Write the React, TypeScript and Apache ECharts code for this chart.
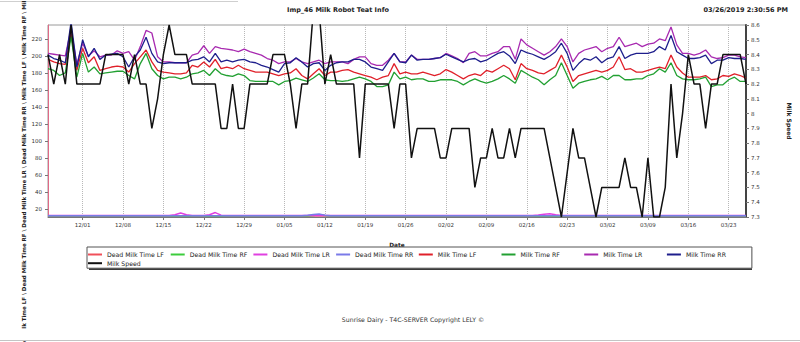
import React, { useEffect, useRef } from "react";
import * as echarts from "echarts";

// ---------- data ----------
const START_DATE = "2018-11-25";
const DAY_COUNT = 122;
function buildDates(): string[] {
  const out: string[] = [];
  const d0 = new Date(START_DATE + "T12:00:00Z");
  for (let i = 0; i < DAY_COUNT; i++) {
    const d = new Date(d0.getTime() + i * 86400000);
    const mm = String(d.getUTCMonth() + 1).padStart(2, "0");
    const dd = String(d.getUTCDate()).padStart(2, "0");
    out.push(mm + "/" + dd);
  }
  return out;
}
const dates = buildDates();

const leftTicks = [20, 40, 60, 80, 100, 120, 140, 160, 180, 200, 220];
const rightTicks = [7.3, 7.4, 7.5, 7.6, 7.7, 7.8, 7.9, 8, 8.1, 8.2, 8.3, 8.4, 8.5, 8.6];

const deadMilkTimeLF = [
  12,12,12,12,12,12,12,12,12,12, 12,12,12,12,12,12,12,12,12,12,
  12,12,12,12,12,12,12,12,12,12, 12,12,12,12,12,12,12,12,12,12,
  12,12,12,12,12,12,12,12,12,12, 12,12,12,12,12,12,12,12,12,12,
  12,12,12,12,12,12,12,12,12,12, 12,12,12,12,12,12,12,12,12,12,
  12,12,12,12,12,12,12,12,12,12, 12,12,12,12,12,12,12,12,12,12,
  12,12,12,12,12,12,12,12,12,12, 12,12,12,12,12,12,12,12,12,12,
  12,12,
];
const deadMilkTimeRF = [
  11.8,11.8,11.8,11.8,11.8,11.8,11.8,11.8,11.8,11.8, 11.8,11.8,11.8,11.8,11.8,11.8,11.8,11.8,11.8,11.8,
  11.8,11.8,11.8,11.8,11.8,11.8,11.8,11.8,11.8,11.8, 11.8,11.8,11.8,11.8,11.8,11.8,11.8,11.8,11.8,11.8,
  11.8,11.8,11.8,11.8,11.8,11.8,12.5,13.2,12.3,11.8, 11.8,11.8,11.8,11.8,11.8,11.8,11.8,11.8,11.8,11.8,
  11.8,11.8,11.8,11.8,11.8,11.8,11.8,11.8,11.8,11.8, 11.8,11.8,11.8,11.8,11.8,11.8,11.8,11.8,11.8,11.8,
  11.8,11.8,11.8,11.8,11.8,11.8,11.8,11.8,11.8,11.8, 11.8,11.8,11.8,11.8,11.8,11.8,11.8,11.8,11.8,11.8,
  11.8,11.8,11.8,11.8,11.8,11.8,11.8,11.8,11.8,11.8, 11.8,11.8,11.8,11.8,11.8,11.8,11.8,11.8,11.8,11.8,
  11.8,11.8,
];
const deadMilkTimeLR = [
  12.4,12.4,12.4,12.4,12.4,12.4,12.4,12.4,12.4,12.4, 12.4,12.4,12.4,12.4,12.4,12.4,12.4,12.4,12.4,12.4,
  12.4,12.4,13.3,15.2,13.2,12.4,12.4,12.4,13.3,15.8, 12.8,12.4,12.4,12.4,12.4,12.4,12.4,12.4,12.4,12.4,
  12.4,12.4,12.4,12.4,12.4,12.4,12.4,12.4,12.4,12.4, 12.4,12.4,12.4,12.4,12.4,12.4,12.4,12.4,12.4,12.4,
  12.4,12.4,12.4,12.4,12.4,12.4,12.4,12.4,12.4,12.4, 12.4,12.4,12.4,12.4,12.4,12.4,12.4,12.4,12.4,12.4,
  12.4,12.4,12.4,12.4,12.4,12.9,13.8,14.3,13.3,12.4, 12.4,12.4,12.4,12.4,12.4,12.4,12.4,12.4,12.4,12.4,
  12.4,12.4,12.4,12.4,12.4,12.4,12.4,12.4,12.4,12.4, 12.4,12.4,12.4,12.4,12.4,12.4,12.4,12.4,12.4,12.4,
  12.4,12.4,
];
const deadMilkTimeRR = [
  12.2,12.2,12.2,12.2,12.2,12.2,12.2,12.2,12.2,12.2, 12.2,12.2,12.2,12.2,12.2,12.2,12.2,12.2,12.2,12.2,
  12.2,12.2,12.2,12.2,12.2,12.2,12.2,12.2,12.2,12.2, 12.2,12.2,12.2,12.2,12.2,12.2,12.2,12.2,12.2,12.2,
  12.2,12.2,12.2,12.2,12.2,12.6,13.5,14,12.8,12.2, 12.2,12.2,12.2,12.2,12.2,12.2,12.2,12.2,12.2,12.2,
  12.2,12.2,12.2,12.2,12.2,12.2,12.2,12.2,12.2,12.2, 12.2,12.2,12.2,12.2,12.2,12.2,12.2,12.2,12.2,12.2,
  12.2,12.2,12.2,12.2,12.2,12.2,12.2,12.2,12.2,12.2, 12.2,12.2,12.2,12.2,12.2,12.2,12.2,12.2,12.2,12.2,
  12.2,12.2,12.2,12.2,12.2,12.2,12.2,12.2,12.2,12.2, 12.2,12.2,12.2,12.2,12.2,12.2,12.2,12.2,12.2,12.2,
  12.2,12.2,
];

const milkTimeLF = [
  196,193,191,190,226,183,209,192,199,183, 185,187,188,187,181,191,199,207,193,183,
  181,180,179,179,180,189,187,193,187,196, 185,187,185,189,185,183,181,181,181,179,
  177,179,180,185,177,173,179,185,177,181, 181,183,184,181,179,177,175,172,175,177,
  191,179,181,179,179,181,179,177,179,184, 181,177,173,177,179,177,183,181,185,189,
  185,172,191,185,183,180,179,183,187,201, 187,170,177,179,181,183,181,183,187,199,
  184,185,181,181,183,185,187,185,201,187, 180,175,175,175,177,172,173,177,176,179,
  177,174,
];
const milkTimeRF = [
  185,183,177,180,223,175,203,181,187,179, 180,181,182,182,177,173,191,203,185,177,
  173,175,175,173,175,179,180,183,177,185, 179,177,176,179,177,171,170,170,170,170,
  166,170,171,174,172,170,174,179,172,171, 171,170,171,173,175,173,170,164,164,166,
  181,173,175,172,173,173,170,170,172,172, 172,170,166,170,173,170,168,170,173,177,
  173,168,183,179,175,172,166,172,177,192, 177,162,168,170,172,173,176,172,177,177,
  172,172,173,173,177,179,185,181,192,177, 173,172,172,173,175,164,166,166,172,175,
  170,170,
];
const milkTimeLR = [
  203,202,201,200,232,190,215,200,206,199, 201,201,206,203,205,195,211,230,227,199,
  193,193,192,192,192,201,203,212,203,211, 209,208,207,205,208,205,203,201,197,195,
  191,193,193,197,193,191,193,195,191,193, 193,193,191,196,199,199,191,189,189,195,
  203,193,193,201,196,196,196,197,198,203, 200,197,192,203,205,200,200,203,205,211,
  211,196,220,213,209,205,201,205,211,220, 211,193,203,207,209,211,205,209,211,222,
  211,213,215,211,214,215,220,218,234,213, 203,203,201,203,207,199,197,198,201,201,
  199,198,
];
const milkTimeRR = [
  201,197,195,192,240,187,219,199,209,196, 201,202,203,199,187,199,207,222,203,193,
  191,192,192,192,192,195,196,199,193,203, 193,195,193,195,196,193,192,189,187,184,
  181,191,192,198,193,187,191,192,183,189, 192,193,193,196,196,193,187,185,183,193,
  203,193,192,201,195,196,196,197,198,202, 199,196,193,196,197,193,195,199,203,205,
  200,191,207,204,202,199,196,200,205,215, 203,183,191,197,195,199,192,197,199,211,
  197,201,203,203,203,205,211,207,224,205, 201,197,197,198,201,191,195,195,198,197,
  197,196,
];
const milkSpeed = [
  8.4,8.2,8.4,8.2,8.6,8.2,8.2,8.2,8.2,8.2, 8.4,8.4,8.4,8.4,8.2,8.4,8.2,8.2,7.9,8.1,
  8.4,8.6,8.4,8.4,8.4,8.2,8.2,8.2,8.2,8.2, 7.9,7.9,8.2,7.9,7.9,8.2,8.2,8.2,8.2,8.4,
  8.4,8.4,8.2,7.9,8.2,8.2,8.7,8.7,8.2,8.4, 8.2,8.2,8.2,8.2,7.7,8.2,8.2,8.2,8.2,8.2,
  7.9,8.2,8.2,7.7,7.9,7.9,7.9,7.9,7.7,7.7, 7.9,7.9,7.9,7.9,7.5,7.7,7.7,7.9,7.7,7.7,
  7.9,7.7,7.9,7.9,7.9,7.9,7.9,7.7,7.5,7.3, 7.6,7.9,7.7,7.7,7.5,7.3,7.5,7.5,7.5,7.5,
  7.7,7.5,7.5,7.3,7.7,7.3,7.3,7.5,8.2,7.7, 8.0,8.4,8.2,8.2,7.9,8.2,8.2,8.4,8.4,8.4,
  8.4,8.2,
];

const TITLE = "Imp_46 Milk Robot Teat Info";
const TIMESTAMP = "03/26/2019 2:30:56 PM";
const FOOTER = "Sunrise Dairy - T4C-SERVER Copyright LELY \u00A9";
const LEFT_AXIS_NAME =
  "Dead Milk Time LF \\ Dead Milk Time RF \\ Dead Milk Time LR \\ Dead Milk Time RR \\ Milk Time LF \\ Milk Time RF \\ Milk Time LR \\ Milk Time RR";

const FONT = "DejaVu Sans";

export default function App() {
  const ref = useRef<HTMLDivElement>(null);
  useEffect(() => {
    if (!ref.current) return;
    const chart = echarts.init(ref.current, undefined, { renderer: "svg" });
    const weekly = (idx: number) => idx >= 6 && (idx - 6) % 7 === 0;
    const mk = (name: string, data: number[], color: string, width: number, yIdx = 0, z = 2) => ({
      name,
      type: "line",
      data,
      yAxisIndex: yIdx,
      symbol: "none",
      showSymbol: false,
      z,
      lineStyle: { color, width },
      itemStyle: { color },
    });
    const option: any = {
      animation: false,
      backgroundColor: "#ffffff",
      textStyle: { fontFamily: FONT },
      title: {
        text: TITLE,
        left: 287,
        top: 5,
        padding: 0,
        textStyle: { fontFamily: FONT, fontSize: 6.5, fontWeight: "bold", color: "#222", lineHeight: 9 },
      },
      grid: { left: 48, right: 49, top: 25, bottom: 125, show: true, borderColor: "#9a9a9a", borderWidth: 1 },
      legend: {
        left: 87,
        top: 247,
        width: 690,
        orient: "horizontal",
        padding: [4.5, 5, 2, 1],
        itemGap: 2.7,
        itemWidth: 14,
        itemHeight: 2,
        icon: "rect",
        backgroundColor: "#ffffff",
        borderColor: "#555",
        borderWidth: 1,
        z: 5,
        data: [
          "Dead Milk Time LF", "Dead Milk Time RF", "Dead Milk Time LR", "Dead Milk Time RR",
          "Milk Time LF", "Milk Time RF", "Milk Time LR", "Milk Time RR", "Milk Speed",
        ],
        textStyle: { fontFamily: FONT, fontSize: 6.2, color: "#222", width: 61, lineHeight: 6, overflow: "truncate" },
      },
      xAxis: {
        type: "category",
        data: dates,
        boundaryGap: false,
        name: "Date",
        nameLocation: "middle",
        nameGap: 25,
        nameTextStyle: { fontFamily: FONT, fontSize: 5.8, fontWeight: "bold", color: "#222" },
        axisLine: { show: true, lineStyle: { color: "#777" } },
        axisTick: { show: true, interval: (i: number) => weekly(i), length: 3, lineStyle: { color: "#777" } },
        axisLabel: { interval: (i: number) => weekly(i), fontSize: 5.5, color: "#333", margin: 5 },
        splitLine: { show: true, interval: (i: number) => weekly(i), lineStyle: { type: "dotted", color: "#b8b8b8" } },
      },
      yAxis: [
        {
          type: "value",
          min: 10.6,
          max: 236.4,
          position: "left",
          axisLine: { show: true, lineStyle: { color: "#e06a86" } },
          axisTick: { show: true, customValues: leftTicks, length: 3, lineStyle: { color: "#777" } },
          axisLabel: { customValues: leftTicks, fontSize: 5.5, color: "#333", margin: 6 },
          splitLine: { show: false },
        },
        {
          type: "value",
          min: 7.3,
          max: 8.6,
          position: "right",
          name: "Milk Speed",
          nameLocation: "middle",
          nameRotate: -90,
          nameGap: 40,
          nameTextStyle: { fontFamily: FONT, fontSize: 6, fontWeight: "bold", color: "#222" },
          axisLine: { show: true, lineStyle: { color: "#444", width: 2 } },
          axisTick: { show: true, customValues: rightTicks, length: 3, lineStyle: { color: "#777" } },
          axisLabel: { customValues: rightTicks, fontSize: 5.5, color: "#333", margin: 5 },
          splitLine: { show: false },
        },
      ],
      graphic: [
        { type: "line", shape: { x1: 0, y1: 1.5, x2: 238, y2: 1.5 }, style: { stroke: "#cfcfcf", lineWidth: 1 }, z: 1 },
        { type: "line", shape: { x1: 0, y1: 340.5, x2: 800, y2: 340.5 }, style: { stroke: "#c4c4c4", lineWidth: 1 }, z: 101 },
        {
          type: "text",
          x: 24,
          y: 139,
          rotation: Math.PI / 2,
          z: 50,
          style: {
            text: LEFT_AXIS_NAME,
            fontFamily: FONT,
            fontSize: 5.5,
            fontWeight: "bold",
            fill: "#222",
            align: "center",
            verticalAlign: "middle",
          },
        },
        { type: "rect", shape: { x: 0, y: 329, width: 46, height: 11 }, style: { fill: "#ffffff" }, z: 100 },
        { type: "rect", shape: { x: 89, y: 249, width: 663, height: 21 }, style: { fill: "#3a3a3a" }, z: 1 },
        {
          type: "text",
          x: 788,
          y: 10,
          style: { text: TIMESTAMP, fontFamily: FONT, fontSize: 6.5, fontWeight: "bold", fill: "#222", align: "right", verticalAlign: "middle" },
        },
        {
          type: "text",
          x: 413,
          y: 319,
          style: { text: FOOTER, fontFamily: FONT, fontSize: 6.2, fill: "#333", align: "center", verticalAlign: "middle" },
        },
      ],
      series: [
        mk("Dead Milk Time LF", deadMilkTimeLF, "#f0505a", 1.5),
        mk("Dead Milk Time RF", deadMilkTimeRF, "#3ccc3c", 1.5),
        mk("Dead Milk Time LR", deadMilkTimeLR, "#e040e0", 1.5),
        mk("Dead Milk Time RR", deadMilkTimeRR, "#7a7ae8", 1.5),
        mk("Milk Time LF", milkTimeLF, "#e0202a", 1.3),
        mk("Milk Time RF", milkTimeRF, "#22a032", 1.3),
        mk("Milk Time LR", milkTimeLR, "#a82ab0", 1.3),
        mk("Milk Time RR", milkTimeRR, "#1e1e8c", 1.3),
        mk("Milk Speed", milkSpeed, "#111111", 1.5, 1, 3),
      ],
    };
    chart.setOption(option);
    return () => chart.dispose();
  }, []);
  return (
    <div
      ref={ref}
      style={{ position: "fixed", left: 0, top: 0, width: 800, height: 342, background: "#fff" }}
    />
  );
}
